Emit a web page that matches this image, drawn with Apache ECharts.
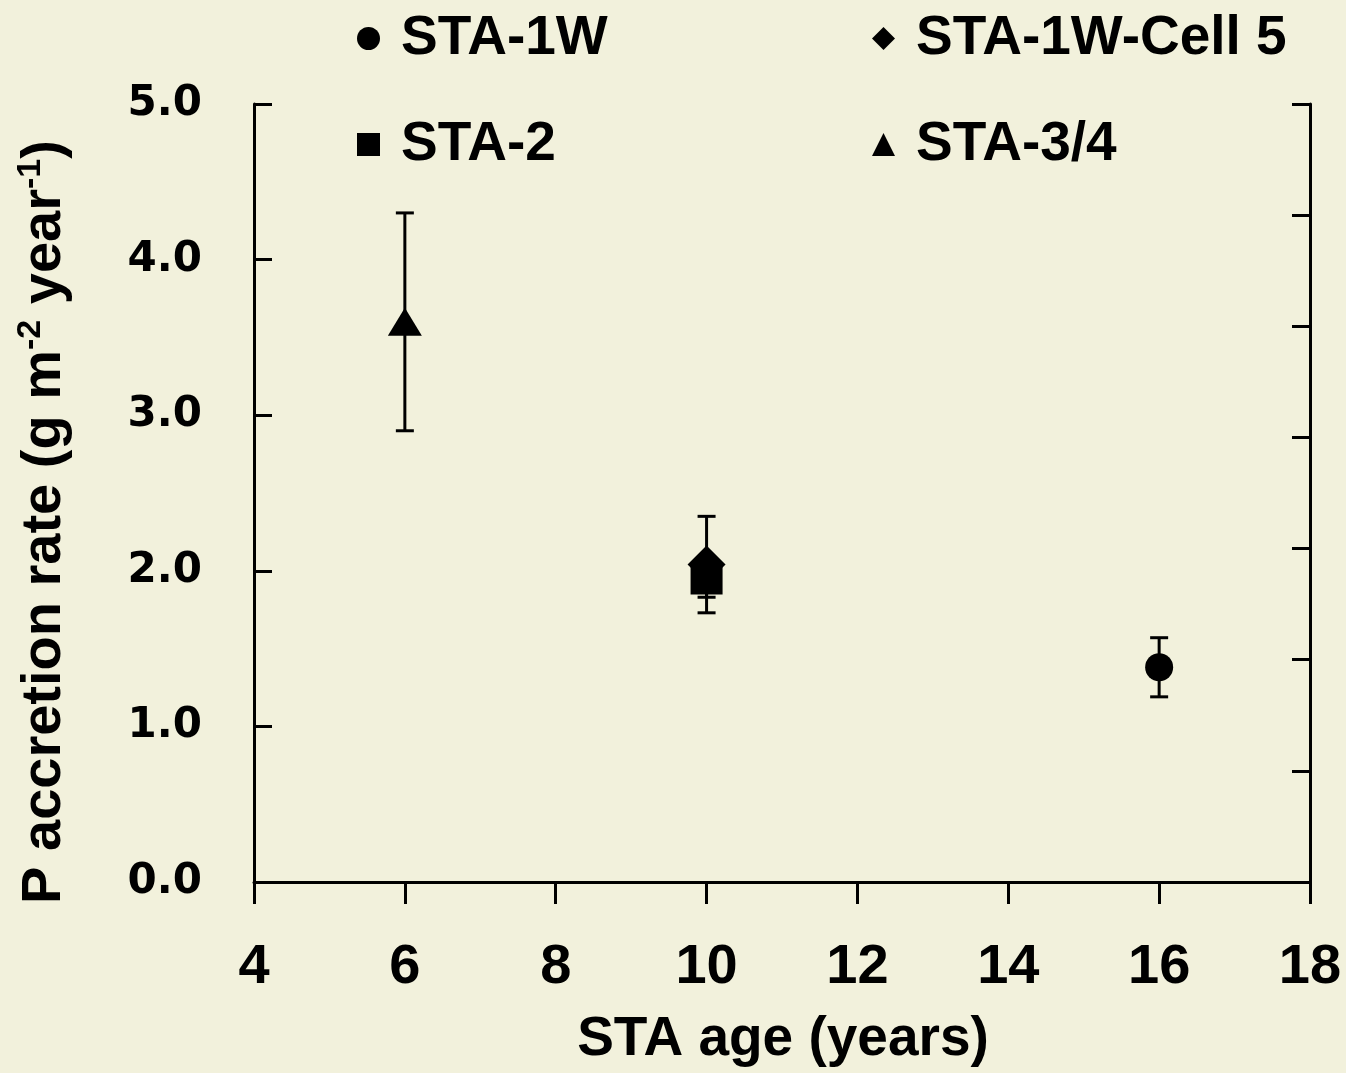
<!DOCTYPE html>
<html>
<head>
<meta charset="utf-8">
<script src="https://cdn.jsdelivr.net/npm/echarts@6/dist/echarts.min.js"></script>
<style>
html,body{margin:0;padding:0;background:#f2f1dc;}
#c{width:1346px;height:1073px;}
</style>
</head>
<body>
<div id="c"></div>
<script>
// ---- data ----
const seriesNames = ['STA-1W', 'STA-1W-Cell 5', 'STA-2', 'STA-3/4'];
const ages_STA1W = [16];
const rate_STA1W = [1.38];
const err_STA1W = [0.19];
const ages_Cell5 = [10];
const rate_Cell5 = [2.04];
const err_Cell5 = [0.31];
const ages_STA2 = [10];
const rate_STA2 = [1.95];
const err_STA2 = [0.12];
const ages_STA34 = [6];
const rate_STA34 = [3.6];
const err_STA34 = [0.7];
const xTicks = [4, 6, 8, 10, 12, 14, 16, 18];
const yTicks = [0, 1, 2, 3, 4, 5];

const SANS = '"Liberation Sans", Arial, sans-serif';
const WIDE = '"DejaVu Sans", Verdana, sans-serif';

function pts(xs, ys) { return xs.map((x, i) => [x, ys[i]]); }
function errs(xs, ys, es) { return xs.map((x, i) => [x, ys[i] - es[i], ys[i] + es[i]]); }

const allErr = [].concat(
  errs(ages_STA1W, rate_STA1W, err_STA1W),
  errs(ages_Cell5, rate_Cell5, err_Cell5),
  errs(ages_STA2, rate_STA2, err_STA2),
  errs(ages_STA34, rate_STA34, err_STA34)
);

const chart = echarts.init(document.getElementById('c'), null, {renderer: 'canvas'});

function legendItem(name, icon, left, top) {
  return {
    data: [{name: name, icon: icon}],
    left: left, top: top, padding: 0,
    itemWidth: 23, itemHeight: 23,
    selectedMode: false,
    textStyle: {
      fontFamily: SANS, fontWeight: 'bold', fontSize: 55, color: '#000',
      lineHeight: 55, padding: [0, 0, 0, 16]
    }
  };
}

const option = {
  backgroundColor: '#f2f1dc',
  animation: false,
  grid: {left: 254, right: 36, top: 104, bottom: 191, containLabel: false},
  legend: [
    legendItem(seriesNames[0], 'circle', 357, 11),
    legendItem(seriesNames[1], 'diamond', 872, 11),
    legendItem(seriesNames[2], 'rect', 357, 117),
    legendItem(seriesNames[3], 'triangle', 872, 117)
  ],
  xAxis: {
    type: 'value', min: xTicks[0], max: xTicks[xTicks.length - 1], interval: 2,
    axisLine: {show: true, lineStyle: {color: '#000', width: 3}},
    axisTick: {show: true, inside: false, length: 22, lineStyle: {color: '#000', width: 3}},
    splitLine: {show: false},
    axisLabel: {fontFamily: SANS, fontWeight: 'bold', fontSize: 56, color: '#000', margin: 58}
  },
  yAxis: [
    {
      type: 'value', min: yTicks[0], max: yTicks[yTicks.length - 1], interval: 1,
      axisLine: {show: true, lineStyle: {color: '#000', width: 3}},
      axisTick: {show: true, inside: true, length: 18, lineStyle: {color: '#000', width: 3}},
      splitLine: {show: false},
      axisLabel: {fontFamily: WIDE, fontWeight: 'bold', fontSize: 42, color: '#000', margin: 52,
        formatter: v => v.toFixed(1)}
    },
    {
      type: 'value', position: 'right', min: 0, max: 7, interval: 1,
      axisLine: {show: true, lineStyle: {color: '#000', width: 3}},
      axisTick: {show: true, inside: true, length: 18, lineStyle: {color: '#000', width: 3}},
      splitLine: {show: false},
      axisLabel: {show: false}
    }
  ],
  graphic: [
    {
      type: 'text', x: 45, y: 522, rotation: Math.PI / 2,
      style: {
        text: '{a|P accretion rate (g m}{s|-2}{a| year}{s|-1}{a|)}',
        align: 'center', verticalAlign: 'middle',
        rich: {
          a: {fontFamily: SANS, fontWeight: 'bold', fontSize: 56, fill: '#000', lineHeight: 62},
          s: {fontFamily: SANS, fontWeight: 'bold', fontSize: 34, fill: '#000', lineHeight: 36, verticalAlign: 'top'}
        }
      }
    },
    {
      type: 'text', x: 783, y: 1040,
      style: {
        text: 'STA age (years)', align: 'center', verticalAlign: 'middle',
        fontFamily: SANS, fontWeight: 'bold', fontSize: 55, fill: '#000'
      }
    }
  ],
  series: [
    {
      type: 'custom', name: 'err', z: 1,
      renderItem: function (params, api) {
        const x = api.value(0);
        const lo = api.coord([x, api.value(1)]);
        const hi = api.coord([x, api.value(2)]);
        const cw = 9;
        const st = {stroke: '#000', lineWidth: 3};
        return {
          type: 'group',
          children: [
            {type: 'line', shape: {x1: lo[0], y1: lo[1], x2: hi[0], y2: hi[1]}, style: st},
            {type: 'line', shape: {x1: lo[0] - cw, y1: lo[1], x2: lo[0] + cw, y2: lo[1]}, style: st},
            {type: 'line', shape: {x1: hi[0] - cw, y1: hi[1], x2: hi[0] + cw, y2: hi[1]}, style: st}
          ]
        };
      },
      encode: {x: 0, y: [1, 2]},
      data: allErr
    },
    {name: seriesNames[0], type: 'scatter', symbol: 'circle', symbolSize: 28, z: 3,
      itemStyle: {color: '#000', opacity: 1}, data: pts(ages_STA1W, rate_STA1W)},
    {name: seriesNames[1], type: 'scatter', symbol: 'diamond', symbolSize: [38, 38], z: 3,
      itemStyle: {color: '#000', opacity: 1}, data: pts(ages_Cell5, rate_Cell5)},
    {name: seriesNames[2], type: 'scatter', symbol: 'rect', symbolSize: 32, z: 4,
      itemStyle: {color: '#000', opacity: 1}, data: pts(ages_STA2, rate_STA2)},
    {name: seriesNames[3], type: 'scatter', symbol: 'triangle', symbolSize: [34, 28], z: 3,
      itemStyle: {color: '#000', opacity: 1}, data: pts(ages_STA34, rate_STA34)}
  ]
};
chart.setOption(option);
</script>
</body>
</html>
